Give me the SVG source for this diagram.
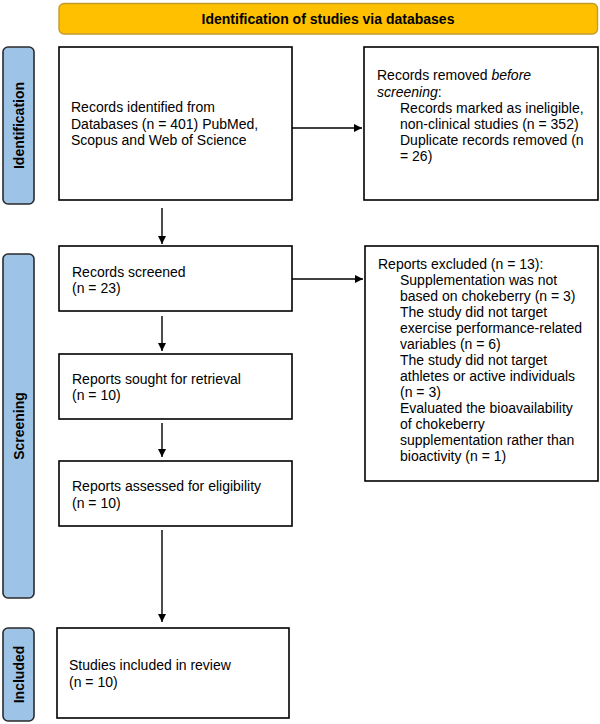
<svg xmlns="http://www.w3.org/2000/svg" width="600" height="724" viewBox="0 0 600 724">
<defs>
<style>
.box{fill:#fff;stroke:#000;stroke-width:1.6}
.side{fill:#9DC3E6;stroke:#2b2b2b;stroke-width:1.6}
.banner{fill:#FFC000;stroke:#C49A2C;stroke-width:1.4}
.t{font-family:"Liberation Sans",Arial,sans-serif;font-size:14px;fill:#000}
.b{font-family:"Liberation Sans",Arial,sans-serif;font-size:14px;font-weight:bold;fill:#000}
.c{stroke:#000;stroke-width:1.4;fill:none;marker-end:url(#ah)}
</style>
<marker id="ah" viewBox="0 0 10 10" refX="10" refY="5" markerWidth="9" markerHeight="8" markerUnits="userSpaceOnUse" orient="auto">
<path d="M0,0 L10,5 L0,10 z" fill="#000"/>
</marker>
</defs>
<rect width="600" height="724" fill="#fff"/>

<g id="banner">
<rect class="banner" x="59" y="3.5" width="538.5" height="30.5" rx="5"/>
<text class="b" x="328" y="23.5" text-anchor="middle">Identification of studies via databases</text>
</g>

<g id="side-identification">
<rect class="side" x="3" y="47" width="31" height="157" rx="5"/>
<text class="b" transform="translate(19,125.5) rotate(-90)" text-anchor="middle" dominant-baseline="central">Identification</text>
</g>
<g id="side-screening">
<rect class="side" x="3" y="254" width="31" height="344" rx="5"/>
<text class="b" transform="translate(19,426) rotate(-90)" text-anchor="middle" dominant-baseline="central">Screening</text>
</g>
<g id="side-included">
<rect class="side" x="3" y="628" width="31" height="93" rx="5"/>
<text class="b" transform="translate(19,674.5) rotate(-90)" text-anchor="middle" dominant-baseline="central">Included</text>
</g>

<g id="records-identified">
<rect class="box" x="59" y="47" width="233" height="153"/>
<text class="t"><tspan x="71" y="112">Records identified from</tspan><tspan x="71" y="128.5">Databases (n = 401) PubMed,</tspan><tspan x="71" y="145">Scopus and Web of Science</tspan></text>
</g>

<g id="records-removed">
<rect class="box" x="364" y="47" width="234" height="153"/>
<text class="t"><tspan x="377" y="80">Records removed <tspan font-style="italic">before</tspan></tspan><tspan x="377" y="96.5" font-style="italic">screening</tspan><tspan>:</tspan><tspan x="400" y="112.5">Records marked as ineligible,</tspan><tspan x="400" y="129">non-clinical studies (n = 352)</tspan><tspan x="400" y="145">Duplicate records removed (n</tspan><tspan x="400" y="161">= 26)</tspan></text>
</g>

<g id="records-screened">
<rect class="box" x="59" y="246" width="233" height="65"/>
<text class="t"><tspan x="72" y="277">Records screened</tspan><tspan x="72" y="293">(n = 23)</tspan></text>
</g>

<g id="reports-excluded">
<rect class="box" x="365" y="246" width="233" height="235"/>
<text class="t"><tspan x="378" y="269">Reports excluded (n = 13):</tspan><tspan x="400" y="285">Supplementation was not</tspan><tspan x="400" y="301">based on chokeberry (n = 3)</tspan><tspan x="400" y="317">The study did not target</tspan><tspan x="400" y="333">exercise performance-related</tspan><tspan x="400" y="349">variables (n = 6)</tspan><tspan x="400" y="365">The study did not target</tspan><tspan x="400" y="381">athletes or active individuals</tspan><tspan x="400" y="397">(n = 3)</tspan><tspan x="400" y="413">Evaluated the bioavailability</tspan><tspan x="400" y="429">of chokeberry</tspan><tspan x="400" y="445">supplementation rather than</tspan><tspan x="400" y="461">bioactivity (n = 1)</tspan></text>
</g>

<g id="reports-sought">
<rect class="box" x="59" y="354" width="233" height="65"/>
<text class="t"><tspan x="72" y="384">Reports sought for retrieval</tspan><tspan x="72" y="400">(n = 10)</tspan></text>
</g>

<g id="reports-assessed">
<rect class="box" x="59" y="461" width="233" height="65"/>
<text class="t"><tspan x="72" y="491">Reports assessed for eligibility</tspan><tspan x="72" y="508">(n = 10)</tspan></text>
</g>

<g id="studies-included">
<rect class="box" x="57" y="628" width="232" height="90"/>
<text class="t"><tspan x="69" y="670">Studies included in review</tspan><tspan x="69" y="687">(n = 10)</tspan></text>
</g>

<g id="connectors">
<line class="c" x1="292" y1="128" x2="362" y2="128"/>
<line class="c" x1="162" y1="208" x2="162" y2="244"/>
<line class="c" x1="292" y1="279" x2="363" y2="279"/>
<line class="c" x1="162" y1="316" x2="162" y2="351"/>
<line class="c" x1="162" y1="423" x2="162" y2="457"/>
<line class="c" x1="162" y1="530" x2="162" y2="622"/>
</g>
</svg>
